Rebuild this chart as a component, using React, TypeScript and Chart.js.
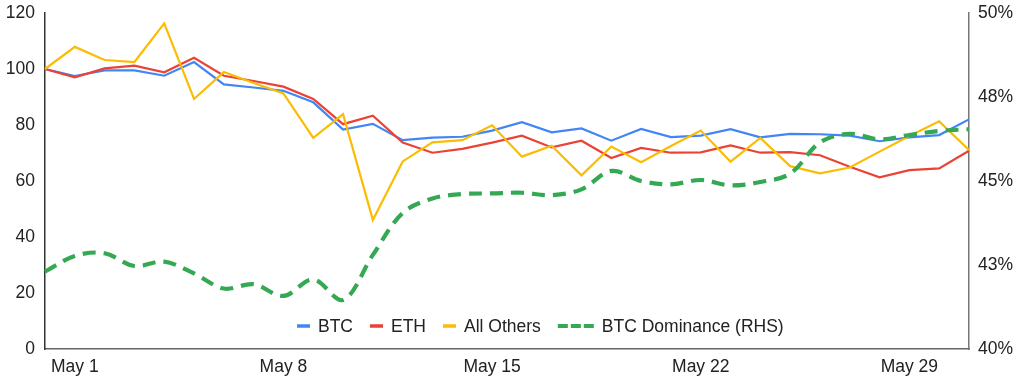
import React, { useEffect, useRef } from "react";
import { Chart, registerables } from "chart.js";

Chart.register(...registerables);

// Daily dates, Apr 30 .. May 31
const dates: string[] = [
  "Apr 30", "May 1", "May 2", "May 3", "May 4", "May 5", "May 6", "May 7",
  "May 8", "May 9", "May 10", "May 11", "May 12", "May 13", "May 14", "May 15",
  "May 16", "May 17", "May 18", "May 19", "May 20", "May 21", "May 22", "May 23",
  "May 24", "May 25", "May 26", "May 27", "May 28", "May 29", "May 30", "May 31",
];

const shownDates: string[] = ["May 1", "May 8", "May 15", "May 22", "May 29"];

const btc: number[] = [
  100, 97.5, 99.5, 99.5, 97.6, 102.5, 94.5, 93.4, 92.2, 88.1, 78.4, 80.4, 74.6, 75.5, 75.8, 78.0,
  81.0, 77.4, 78.8, 74.4, 78.6, 75.7, 76.2, 78.5, 75.6, 76.8, 76.7, 76.2, 74.2, 75.6, 76.4, 82.0,
];

const eth: number[] = [
  100, 97.0, 100.2, 101.2, 98.8, 104.0, 97.6, 95.7, 93.7, 89.3, 80.3, 83.3, 73.7, 70.1, 71.5, 73.7,
  76.2, 72.0, 74.4, 68.2, 71.8, 70.1, 70.2, 72.7, 70.1, 70.3, 69.2, 65.1, 61.3, 63.9, 64.5, 70.8,
];

const allOthers: number[] = [
  100, 107.9, 103.2, 102.5, 116.3, 89.3, 98.9, 95.0, 91.3, 75.4, 83.9, 46.1, 67.0, 73.8, 74.6, 79.9,
  68.7, 72.6, 62.0, 72.3, 66.7, 72.5, 78.0, 66.9, 75.4, 65.3, 62.7, 64.8, 70.5, 76.1, 81.3, 71.1,
];

const btcDominance: number[] = [
  42.3, 42.77, 42.85, 42.47, 42.6, 42.25, 41.8, 41.93, 41.58, 42.07, 41.46, 42.8, 44.05, 44.48, 44.61, 44.63,
  44.65, 44.58, 44.75, 45.3, 45.0, 44.9, 45.03, 44.87, 44.97, 45.22, 46.15, 46.4, 46.24, 46.37, 46.49, 46.54,
];

const leftTicks = { min: 0, max: 120, step: 20 };
const rightTicks = { min: 40, max: 50, step: 2.5 };

const FONT = "'Liberation Sans', Arial, Helvetica, sans-serif";
const FSIZE = 17.5;
const TEXT = "#222222";

export default function App() {
  const ref = useRef<HTMLCanvasElement>(null);

  useEffect(() => {
    if (!ref.current) return;

    const insideLegend = {
      id: "insideLegend",
      afterDraw(chart: any) {
        const ctx = chart.ctx as CanvasRenderingContext2D;
        ctx.save();
        ctx.font = `${FSIZE}px ${FONT}`;
        ctx.textBaseline = "middle";
        ctx.textAlign = "left";
        const y = 326;
        let x = 297;
        chart.data.datasets.forEach((ds: any) => {
          const dashed = Array.isArray(ds.borderDash) && ds.borderDash.length > 0;
          const mw = dashed ? 36 : 13;
          ctx.strokeStyle = ds.borderColor;
          ctx.lineWidth = dashed ? 4 : 3.5;
          ctx.lineCap = "butt";
          ctx.setLineDash(dashed ? [10, 3] : []);
          ctx.beginPath();
          ctx.moveTo(x, y);
          ctx.lineTo(x + mw, y);
          ctx.stroke();
          ctx.setLineDash([]);
          x += mw + 8;
          ctx.fillStyle = TEXT;
          ctx.fillText(ds.label, x, y + 1);
          x += ctx.measureText(ds.label).width + 17;
        });
        ctx.restore();
      },
    };

    const chart = new Chart(ref.current, {
      type: "line",
      data: {
        labels: dates,
        datasets: [
          {
            label: "BTC",
            data: btc,
            borderColor: "#4285F4",
            backgroundColor: "#4285F4",
            borderWidth: 2.2,
            pointRadius: 0,
            tension: 0,
            yAxisID: "y",
            order: 3,
          },
          {
            label: "ETH",
            data: eth,
            borderColor: "#EA4335",
            backgroundColor: "#EA4335",
            borderWidth: 2.2,
            pointRadius: 0,
            tension: 0,
            yAxisID: "y",
            order: 2,
          },
          {
            label: "All Others",
            data: allOthers,
            borderColor: "#FBBC04",
            backgroundColor: "#FBBC04",
            borderWidth: 2.2,
            pointRadius: 0,
            tension: 0,
            yAxisID: "y",
            order: 1,
          },
          {
            label: "BTC Dominance (RHS)",
            data: btcDominance,
            borderColor: "#34A853",
            backgroundColor: "#34A853",
            borderWidth: 4.2,
            borderDash: [13, 8],
            pointRadius: 0,
            tension: 0.35,
            yAxisID: "y1",
            order: 0,
          },
        ],
      },
      options: {
        animation: false,
        responsive: false,
        maintainAspectRatio: false,
        layout: { padding: { top: 13, left: 0, right: 0, bottom: 0 } },
        font: { family: FONT, size: FSIZE },
        plugins: {
          legend: { display: false },
          tooltip: { enabled: false },
        },
        scales: {
          x: {
            type: "category",
            offset: false,
            grid: { display: false },
            border: { display: true, color: "#666666", width: 1.5 },
            ticks: {
              autoSkip: false,
              maxRotation: 0,
              minRotation: 0,
              padding: 0,
              color: TEXT,
              font: { family: FONT, size: FSIZE },
              callback: (_v: any, i: number) => (shownDates.includes(dates[i]) ? dates[i] : ""),
            },
            afterFit: (s: any) => {
              s.height = 32;
            },
          },
          y: {
            position: "left",
            min: leftTicks.min,
            max: leftTicks.max,
            grid: { display: false },
            border: { display: true, color: "#333333", width: 1.5 },
            ticks: {
              stepSize: leftTicks.step,
              padding: 2,
              color: TEXT,
              font: { family: FONT, size: FSIZE },
            },
            afterFit: (s: any) => {
              s.width = 45;
            },
          },
          y1: {
            position: "right",
            min: rightTicks.min,
            max: rightTicks.max,
            grid: { display: false },
            border: { display: true, color: "#777777", width: 1.5 },
            ticks: {
              stepSize: rightTicks.step,
              padding: 1,
              color: TEXT,
              font: { family: FONT, size: FSIZE },
              callback: (v: any) => `${Math.round(Number(v))}%`,
            },
            afterFit: (s: any) => {
              s.width = 55;
            },
          },
        },
      },
      plugins: [insideLegend],
    } as any);

    return () => chart.destroy();
  }, []);

  return (
    <div style={{ position: "fixed", left: 0, top: 0, width: 1024, height: 381, background: "#ffffff" }}>
      <canvas ref={ref} width={1024} height={381} style={{ display: "block" }} />
    </div>
  );
}
